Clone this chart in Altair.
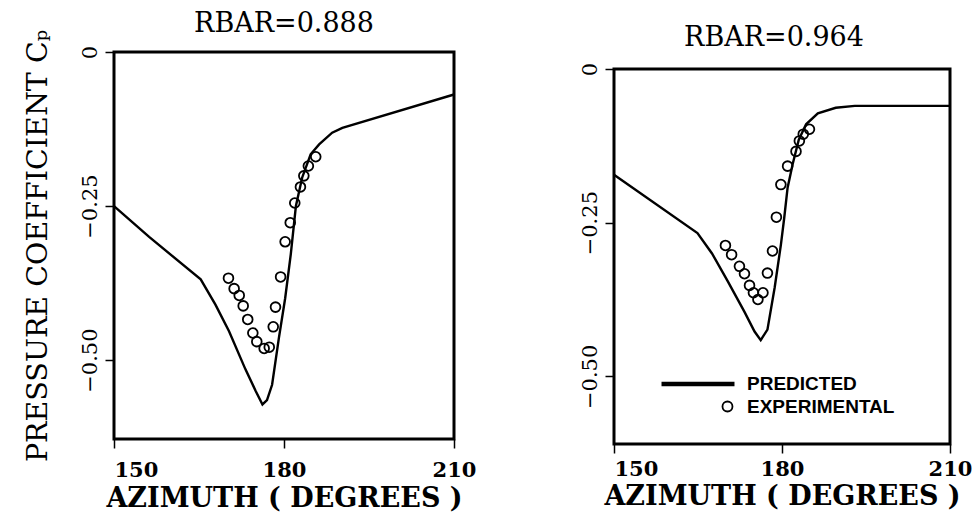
import altair as alt
import pandas as pd

# ---- data: left panel (RBAR=0.888) ----
pred_l_az = [150, 156.2, 165.3, 167.9, 170.3, 173.2, 175.0, 176.2, 177.0, 177.9, 179.1, 180.2, 181.2, 182.1, 183.2, 184.7, 186.2, 188.5, 190.3, 210]
pred_l_cp = [-0.25, -0.30, -0.369, -0.41, -0.453, -0.515, -0.55, -0.572, -0.565, -0.54, -0.464, -0.40, -0.328, -0.25, -0.204, -0.166, -0.150, -0.131, -0.123, -0.069]
exp_l_az = [170.2, 171.2, 172.1, 172.8, 173.6, 174.5, 175.2, 176.5, 177.4, 178.1, 178.5, 179.4, 180.2, 181.1, 181.9, 182.9, 183.5, 184.3, 185.6]
exp_l_cp = [-0.367, -0.384, -0.395, -0.412, -0.434, -0.456, -0.470, -0.481, -0.479, -0.446, -0.414, -0.365, -0.308, -0.277, -0.245, -0.219, -0.201, -0.185, -0.170]

# ---- data: right panel (RBAR=0.964) ----
pred_r_az = [150, 164.9, 167.5, 170.3, 173.3, 175.1, 176.2, 177.4, 178.7, 179.8, 180.4, 181.0, 181.9, 183.0, 184.3, 186.4, 189.6, 193.0, 210]
pred_r_cp = [-0.172, -0.267, -0.30, -0.345, -0.395, -0.427, -0.441, -0.424, -0.355, -0.286, -0.242, -0.193, -0.155, -0.115, -0.090, -0.072, -0.063, -0.060, -0.060]
exp_r_az = [169.9, 171.0, 172.4, 173.3, 174.2, 174.9, 175.7, 176.6, 177.4, 178.3, 179.0, 179.8, 181.0, 182.5, 183.1, 183.8, 184.9]
exp_r_cp = [-0.287, -0.302, -0.321, -0.333, -0.352, -0.364, -0.375, -0.364, -0.332, -0.296, -0.241, -0.188, -0.158, -0.134, -0.117, -0.106, -0.098]

x_ticks = [150, 180, 210]
y_ticks = [0, -0.25, -0.5]
x_range = [150, 210]
left_y_range = [-0.628, 0]
right_y_range = [-0.61, 0]
legend_labels = ["PREDICTED", "EXPERIMENTAL"]

SERIF = "DejaVu Serif"
LINE_PATH = "M-5,0L5,0"
CIRCLE_PATH = "M3.355,0A0.685,0.685 0 1,0 4.725,0A0.685,0.685 0 1,0 3.355,0Z"


def panel(p_az, p_cp, e_az, e_cp, title, y_range, y_top, w, h, ytitle, with_legend, own_frame,
          xlabel_pad, xtitle_pad):
    dp = pd.DataFrame({"az": p_az, "cp": p_cp})
    de = pd.DataFrame({"az": e_az, "cp": e_cp})
    xaxis = alt.Axis(
        values=x_ticks, title="AZIMUTH ( DEGREES )", grid=False, domain=False,
        tickSize=9, tickWidth=1.5, tickColor="black",
        labelFont=SERIF, labelFontSize=21, labelFontWeight="bold", labelColor="black",
        labelPadding=xlabel_pad, labelFlush=False,
        labelAlign=alt.expr("datum.value == 150 ? 'left' : 'center'"),
        titleFont=SERIF, titleFontSize=27, titleFontWeight="bold", titleColor="black",
        titlePadding=xtitle_pad,
    )
    yaxis_kw = dict(
        values=y_ticks, grid=False, domain=False,
        tickSize=9, tickWidth=1.5, tickColor="black",
        labelFont=SERIF, labelFontSize=21, labelFontWeight="normal", labelColor="black",
        labelAngle=270, labelAlign="center", labelBaseline="bottom", labelPadding=5,
        labelExpr="datum.value == 0 ? '0' : format(datum.value, '.2f')",
    )
    if ytitle:
        yaxis = alt.Axis(title=ytitle, titleFont=SERIF, titleFontSize=28.5, titleFontWeight="normal",
                         titleColor="black", titlePadding=27, **yaxis_kw)
    else:
        yaxis = alt.Axis(title=None, **yaxis_kw)
    xs = alt.Scale(domain=x_range, nice=False, zero=False)
    ys = alt.Scale(domain=[y_range[0], y_top], nice=False, zero=False)
    x = alt.X("az:Q", scale=xs, axis=xaxis)
    y = alt.Y("cp:Q", scale=ys, axis=yaxis)
    line = alt.Chart(dp).mark_line(color="black", strokeWidth=2.4).encode(x=x, y=y)
    pts = alt.Chart(de).mark_point(shape="circle", filled=False, color="black", size=95,
                                   strokeWidth=1.8, opacity=1).encode(x=x, y=y)
    layers = []
    if own_frame:
        # axes box drawn at the data limits of the panel
        df = pd.DataFrame({"az": [x_range[0]], "az2": [x_range[1]], "cp": [y_range[0]], "cp2": [y_range[1]]})
        frame = alt.Chart(df).mark_rect(fillOpacity=0, stroke="black", strokeWidth=3).encode(
            x=x, x2="az2:Q", y=y, y2="cp2:Q")
        layers.append(frame)
    layers += [line, pts]
    if with_legend:
        dl = pd.DataFrame({"series": legend_labels})
        leg = alt.Chart(dl).transform_filter("false").mark_point(
            filled=False, color="black", opacity=1).encode(
            shape=alt.Shape("series:N", scale=alt.Scale(domain=legend_labels, range=[LINE_PATH, CIRCLE_PATH]),
                            legend=alt.Legend(orient="none", legendX=74, legendY=322, title=None,
                                              symbolSize=213, symbolStrokeColor="black",
                                              labelFont="Liberation Sans", labelFontSize=19,
                                              labelFontWeight="bold", labelColor="black",
                                              labelOffset=39, rowPadding=3, symbolOpacity=1)),
            strokeWidth=alt.StrokeWidth("series:N", scale=alt.Scale(domain=legend_labels, range=[4.5, 1.8]),
                                        legend=alt.Legend(orient="none", legendX=74, legendY=322, title=None)),
        )
        layers.append(leg)
    lc = alt.layer(*layers).properties(width=w, height=h, title=title)
    if own_frame:
        lc = lc.properties(view=alt.ViewBackground(stroke=None))
    return lc


left = panel(pred_l_az, pred_l_cp, exp_l_az, exp_l_cp,
             alt.TitleParams("RBAR=0.888", font=SERIF, fontSize=27, fontWeight="normal", color="black", offset=-13),
             left_y_range, 0, 340, 387, "PRESSURE COEFFICIENT  Cₚ", False, False, 11, 5)
# right panel's plot area extends 17 px above its box so the box sits lower, as in the original
right = panel(pred_r_az, pred_r_cp, exp_r_az, exp_r_cp,
              alt.TitleParams("RBAR=0.964", font=SERIF, fontSize=27, fontWeight="normal", color="black",
                              offset=0, dx=-8),
              right_y_range, 0.61 * 17 / 375, 336, 392, None, True, True, 5, 4)

chart = alt.hconcat(left, right, spacing=101).resolve_scale(
    shape="independent", strokeWidth="independent"
).properties(
    padding={"left": 21, "top": 8, "right": 0, "bottom": 0},
    background="white",
).configure_view(stroke="black", strokeWidth=3)

chart.save("out.html", embed_options={"renderer": "svg", "actions": False})
